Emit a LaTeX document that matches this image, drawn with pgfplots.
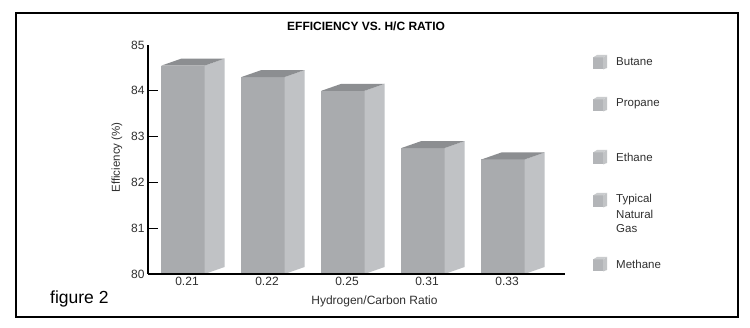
\documentclass[border=0pt]{standalone}
\usepackage{fontspec}
\setmainfont{Liberation Sans}
\usepackage{pgfplots}
\usepackage{pgfplotstable}
\pgfplotsset{compat=1.18}
\definecolor{barfront}{HTML}{A9ABAE}
\definecolor{barside}{HTML}{C0C2C5}
\definecolor{bartop}{HTML}{8C8E91}
\definecolor{cubefront}{HTML}{B3B5B8}
\definecolor{cubeside}{HTML}{C2C4C6}
\definecolor{cubetop}{HTML}{CACCCE}
\definecolor{txt}{HTML}{303030}

\pgfplotstableread{
x y
0 84.55
1 84.3
2 84.0
3 82.75
4 82.5
}\datatable

\begin{document}
\begin{tikzpicture}[x=1pt,y=1pt]
\useasboundingbox[fill=white] (0,0) rectangle (750,328);
\draw[line width=2pt] (16,315) rectangle (738,11);
\begin{axis}[
  at={(148pt,54pt)}, anchor=south west,
  scale only axis, width=417pt, height=229pt,
  xmin=-0.4875, xmax=4.725, ymin=80, ymax=85,
  axis x line*=bottom, axis y line*=left,
  axis line style={line width=1.2pt, -},
  xtick={0,...,4}, xticklabels={0.21,0.22,0.25,0.31,0.33},
  ytick={80,...,85},
  major tick length=0pt,
  minor ytick={81,...,84}, minor tick length=10pt, tick align=inside,
  minor tick style={line width=1.2pt, black},
  ticklabel style={font=\fontsize{12}{14}\selectfont, text=txt},
  /pgf/number format/assume math mode=true,
  xlabel={Hydrogen/Carbon Ratio},
  ylabel={Efficiency (\%)},
  every axis x label/.style={at={(axis description cs:0.543,-0.118)}, anchor=center, font=\fontsize{12}{14}\selectfont, text=txt},
  every axis y label/.style={at={(axis description cs:-0.0743,0.509)}, anchor=center, rotate=90, font=\fontsize{11.5}{14}\selectfont, text=txt},
  title={EFFICIENCY VS. H/C RATIO},
  every axis title/.style={at={(axis description cs:0.523,1.083)}, anchor=center, font=\bfseries\fontsize{12}{14}\selectfont},
  axis on top,
]
\pgfplotsinvokeforeach{0,...,4}{
  \pgfplotstablegetelem{#1}{y}\of\datatable
  \pgfmathsetmacro\v{\pgfplotsretval}
  \pgfmathsetmacro\vt{\pgfplotsretval+0.153}
  \pgfmathsetmacro\xl{#1-0.32}
  \pgfmathsetmacro\xr{#1+0.22}
  \pgfmathsetmacro\xb{#1+0.47}
  \pgfmathsetmacro\xbl{#1-0.07}
  \edef\temp{%
    \noexpand\addplot[fill=barfront,draw=none] coordinates {(\xl,80) (\xr,80) (\xr,\v) (\xl,\v)} -- cycle;
    \noexpand\addplot[fill=barside,draw=none] coordinates {(\xr,80) (\xb,80.153) (\xb,\vt) (\xr,\v)} -- cycle;
    \noexpand\addplot[fill=bartop,draw=none] coordinates {(\xl,\v) (\xr,\v) (\xb,\vt) (\xbl,\vt)} -- cycle;
  }\temp
}
\end{axis}
% legend
\foreach \yy/\lab in {266/Butane,224/Propane,171/Ethane,128/Typical,64/Methane}{
  \fill[cubefront] (593,\yy-7.5) rectangle (603,\yy+4.5);
  \fill[cubeside] (603,\yy-7.5) -- (607,\yy-6) -- (607,\yy+7) -- (603,\yy+4.5) -- cycle;
  \fill[cubetop] (593,\yy+4.5) -- (603,\yy+4.5) -- (607,\yy+7) -- (597,\yy+7) -- cycle;
  \node[anchor=west, inner sep=0pt, font=\fontsize{11.5}{14}\selectfont, text=txt] at (616,\yy) {\lab};
}
\node[anchor=west, inner sep=0pt, font=\fontsize{11.5}{14}\selectfont, text=txt] at (616,114) {Natural};
\node[anchor=west, inner sep=0pt, font=\fontsize{11.5}{14}\selectfont, text=txt] at (616,99) {Gas};
\node[anchor=base west, inner sep=0pt, font=\fontsize{17.5}{20}\selectfont] at (50,24) {figure 2};
\end{tikzpicture}
\end{document}
